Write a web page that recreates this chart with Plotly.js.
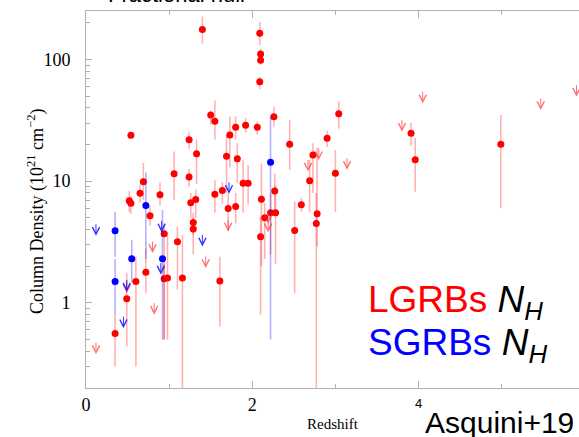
<!DOCTYPE html>
<html><head><meta charset="utf-8">
<script src="https://cdn.plot.ly/plotly-3.0.1.min.js"></script>
<style>html,body{margin:0;padding:0;background:#fff;overflow:hidden}</style>
</head><body>
<div id="chart" style="width:579px;height:437px"></div>
<script>
// LGRB detections: redshift, N_H (10^21 cm^-2), lower / upper error bound
const lgrbZ  = [0.35,0.49,0.54,0.52,0.54,0.60,0.65,0.69,0.72,0.77,0.89,0.94,0.94,0.98,1.06,1.10,1.16,1.24,1.24,1.26,1.32,1.29,1.29,1.33,1.40,1.50,1.55,1.55,1.61,1.64,1.69,1.71,1.73,1.80,1.80,1.82,1.89,1.95,1.92,2.06,2.09,2.10,2.10,2.09,2.11,2.15,2.10,2.22,2.28,2.27,2.26,2.45,2.51,2.59,2.69,2.73,2.78,2.77,2.90,3.00,3.04,3.91,3.96,4.99];
const lgrbNH = [0.56,1.08,23.8,6.9,6.6,1.50,7.97,9.87,1.79,5.2,7.72,3.70,1.58,1.60,11.5,3.18,1.60,21.9,10.8,6.64,7.06,4.58,4.04,16.8,176,34.9,31,7.8,1.51,8.4,16,5.96,24,27.7,6.2,15.3,9.6,9.6,28.8,27.7,164,111,98.7,65.5,7.1,5.0,3.49,5.5,5.5,8.3,33.8,20.1,3.94,6.4,10.1,16.4,5.4,4.5,22.5,11.6,35.8,24.7,15.0,20.1];
const lgrbLo = [0.30,0.44,22.5,5.6,5.4,0.30,6.7,7.0,1.2,4.3,6.3,0.50,0.50,0.50,7.0,1.29,0.10,18.5,9.0,5.0,5.0,3.6,2.5,9.5,135,29,22,5.5,0.64,6.5,8,3.9,13,22,4.5,9.6,5.5,6.4,25,24,131,100,90,57,2.0,2.3,0.80,2.5,2.1,5.5,28,12.4,1.2,5.6,5.6,8,2.9,0.10,19,5.6,27,19.5,8.2,6.0];
const lgrbHi = [0.80,1.77,25.0,8.3,7.6,2.4,9.4,14.1,2.8,6.2,9.8,4.5,2.1,3.8,17.5,4.25,3.6,25.5,12.6,8.0,8.5,5.5,5.0,22,225,38,46,10.2,2.4,9.8,24,8.0,34,34,8.0,20.5,15,13.6,33,31,203,122,108,72,14,6.6,5.1,8.0,9.3,11.5,41,32,6.8,7.3,15,20.5,19,8,26,18,45,30,22.6,35];

// SGRB detections
const sgrbZ  = [0.35,0.35,0.55,0.72,0.92,2.22];
const sgrbNH = [3.91,1.50,2.31,6.3,2.31,14.3];
const sgrbLo = [2.4,0.80,1.47,2.3,0.50,0.50];
const sgrbHi = [5.6,2.3,3.3,11.8,5.8,34];

// Upper limits (arrow tip positions)
const lgrbLimZ  = [0.12,0.49,0.80,0.82,1.44,1.71,2.19,2.19,2.67,2.80,3.14,3.80,4.05,5.47,5.90];
const lgrbLimNH = [0.38,1.20,2.57,0.80,1.94,3.86,4.5,3.8,12.0,14.9,12.4,25.5,43.6,38.4,49.4];
const sgrbLimZ  = [0.12,0.45,0.49,0.91,0.90,1.40,1.72];
const sgrbLimNH = [3.56,0.62,1.24,3.79,1.71,2.91,7.87];

// Axis tick labels
const yTickVals = [1,10,100];
const yTickText = ['1','10','100'];
const xTickVals = [0,2,4];
const xTickText = ['0','2',''];

const W = 579, H = 437, ML = 86, MR = 0, MT = 11, MB = 49;
const pw = W - ML - MR, ph = H - MT - MB;
const px = p => (p - ML) / pw;
const py = p => (H - MB - p) / ph;

const sub = (a, b) => a.map((v, i) => v - b[i]);

const traces = [
  {
    type: 'scatter', mode: 'markers', x: lgrbZ, y: lgrbNH,
    marker: {color: '#ff0000', size: 7},
    error_y: {type: 'data', symmetric: false, array: sub(lgrbHi, lgrbNH), arrayminus: sub(lgrbNH, lgrbLo),
              color: 'rgba(255,0,0,0.3)', thickness: 1.6, width: 0},
    showlegend: false, hoverinfo: 'skip'
  },
  {
    type: 'scatter', mode: 'markers', x: sgrbZ, y: sgrbNH,
    marker: {color: '#0000ff', size: 7},
    error_y: {type: 'data', symmetric: false, array: sub(sgrbHi, sgrbNH), arrayminus: sub(sgrbNH, sgrbLo),
              color: 'rgba(0,0,255,0.3)', thickness: 1.6, width: 0},
    showlegend: false, hoverinfo: 'skip'
  }
];

const arrow = (z, v, col) => ({
  x: z, y: Math.log10(v), xref: 'x', yref: 'y', text: '', showarrow: true,
  arrowhead: 5, arrowsize: 1.4, arrowwidth: 1, arrowcolor: col, ax: 0, ay: -13, standoff: 0
});

const annotations = [];
lgrbLimZ.forEach((z, i) => annotations.push(arrow(z, lgrbLimNH[i], 'rgba(255,40,40,0.65)')));
sgrbLimZ.forEach((z, i) => annotations.push(arrow(z, sgrbLimNH[i], 'rgba(0,0,255,0.8)')));

const sans = 'Liberation Sans, Arial, sans-serif';
const serif = 'Liberation Serif, Times New Roman, serif';

annotations.push(
  {xref: 'paper', yref: 'paper', x: px(176), y: py(-5.5), text: 'Fractional hull', showarrow: false,
   xanchor: 'center', yanchor: 'middle', font: {family: sans, size: 22, color: '#000'}},
  {xref: 'paper', yref: 'paper', x: px(36), y: py(211), text: 'Column Density (10<sup>21</sup> cm<sup>−2</sup>)',
   showarrow: false, textangle: -90, xanchor: 'center', yanchor: 'middle', font: {family: serif, size: 18, color: '#000'}},
  {xref: 'paper', yref: 'paper', x: px(333), y: py(424), text: 'Redshift', showarrow: false,
   xanchor: 'center', yanchor: 'middle', font: {family: serif, size: 15, color: '#000'}},
  {xref: 'x', yref: 'paper', x: 4, y: py(403), text: '4', showarrow: false,
   xanchor: 'center', yanchor: 'middle', font: {family: sans, size: 13, color: '#000'}},
  {xref: 'paper', yref: 'paper', x: px(366), y: py(302), text: '<span style="color:#ff0000">LGRBs</span> <i>N<sub>H</sub></i>',
   showarrow: false, xanchor: 'left', yanchor: 'middle', font: {family: sans, size: 37, color: '#000'}},
  {xref: 'paper', yref: 'paper', x: px(366), y: py(345), text: '<span style="color:#0000ff">SGRBs</span> <i>N<sub>H</sub></i>',
   showarrow: false, xanchor: 'left', yanchor: 'middle', font: {family: sans, size: 37, color: '#000'}},
  {xref: 'paper', yref: 'paper', x: px(423), y: py(422.5), text: 'Asquini+19', showarrow: false,
   xanchor: 'left', yanchor: 'middle', font: {family: sans, size: 30, color: '#000'}}
);

const layout = {
  width: W, height: H,
  margin: {l: ML, r: MR, t: MT, b: MB, pad: 0},
  paper_bgcolor: '#fff', plot_bgcolor: '#fff',
  font: {family: serif, size: 18, color: '#000'},
  showlegend: false,
  xaxis: {
    range: [0, 5.93], showgrid: false, zeroline: false,
    showline: true, linecolor: '#b0b0b0', linewidth: 1, mirror: 'allticks',
    ticks: 'inside', ticklen: 7, tickcolor: '#b0b0b0', tickwidth: 1,
    tickvals: xTickVals, ticktext: xTickText, tickfont: {family: serif, size: 18, color: '#000'},
    minor: {ticks: 'inside', ticklen: 4, tickcolor: '#b0b0b0', dtick: 1, tick0: 0, showgrid: false},
    fixedrange: true
  },
  yaxis: {
    type: 'log', range: [Math.log10(0.2), Math.log10(250)], showgrid: false, zeroline: false,
    showline: true, linecolor: '#b0b0b0', linewidth: 1, mirror: false,
    ticks: 'inside', ticklen: 6, tickcolor: '#b0b0b0', tickwidth: 1,
    tickvals: yTickVals, ticktext: yTickText, tickfont: {family: serif, size: 18, color: '#000'},
    ticklabelstandoff: 11,
    minor: {ticks: 'inside', ticklen: 4, tickcolor: '#b0b0b0', dtick: 'D1', showgrid: false},
    fixedrange: true
  },
  annotations: annotations
};

Plotly.newPlot('chart', traces, layout, {staticPlot: true, displayModeBar: false});
</script>
</body></html>
